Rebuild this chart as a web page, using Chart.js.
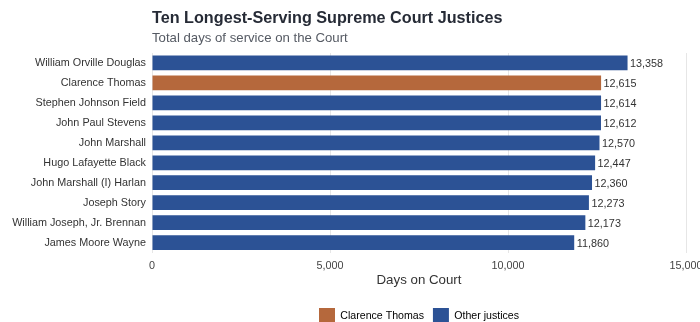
<!DOCTYPE html>
<html>
<head>
<meta charset="utf-8">
<script src="https://cdn.jsdelivr.net/npm/chart.js@4.4.1/dist/chart.umd.min.js"></script>
<style>
  html, body { margin: 0; padding: 0; background: #fff; overflow: hidden; }
  #wrap { position: relative; width: 720px; height: 334px; }
</style>
</head>
<body>
<div id="wrap"><canvas id="courtChart"></canvas></div>
<script>
const justices = [
  "William Orville Douglas",
  "Clarence Thomas",
  "Stephen Johnson Field",
  "John Paul Stevens",
  "John Marshall",
  "Hugo Lafayette Black",
  "John Marshall (I) Harlan",
  "Joseph Story",
  "William Joseph, Jr. Brennan",
  "James Moore Wayne",
];
const daysServed = [13358, 12615, 12614, 12612, 12570, 12447, 12360, 12273, 12173, 11860];
const highlighted = "Clarence Thomas";
const xTicks = [0, 5000, 10000, 15000];

const THOMAS_COLOR = "#b5683c";
const OTHER_COLOR = "#2c5295";
const FONT = "'Liberation Sans', Arial, sans-serif";
const SMALL = 10.8;

// title + subtitle sit flush with the left edge of the plot area
const headingPlugin = {
  id: "heading",
  afterDraw(chart) {
    const ctx = chart.ctx;
    const left = chart.chartArea.left;
    ctx.save();
    ctx.textAlign = "left";
    ctx.textBaseline = "alphabetic";
    ctx.fillStyle = "#262b36";
    ctx.font = "bold 16.2px " + FONT;
    ctx.fillText("Ten Longest-Serving Supreme Court Justices", left, 23);
    ctx.fillStyle = "#555a63";
    ctx.font = "13.2px " + FONT;
    ctx.fillText("Total days of service on the Court", left, 42);
    ctx.restore();
  },
};

// value labels just past the end of each bar
const valueLabelPlugin = {
  id: "valueLabels",
  afterDatasetsDraw(chart) {
    const ctx = chart.ctx;
    const meta = chart.getDatasetMeta(0);
    ctx.save();
    ctx.font = SMALL + "px " + FONT;
    ctx.fillStyle = "#333";
    ctx.textAlign = "left";
    ctx.textBaseline = "middle";
    meta.data.forEach((bar, i) => {
      ctx.fillText(daysServed[i].toLocaleString("en-US"), bar.x + 2.5, bar.y + 1);
    });
    ctx.restore();
  },
};

const ctx = document.getElementById("courtChart").getContext("2d");

new Chart(ctx, {
  type: "bar",
  data: {
    labels: justices,
    datasets: [
      {
        label: "Days on Court",
        data: daysServed,
        backgroundColor: justices.map((j) => (j === highlighted ? THOMAS_COLOR : OTHER_COLOR)),
        borderWidth: 0,
        barPercentage: 0.74,
        categoryPercentage: 1,
      },
    ],
  },
  options: {
    indexAxis: "y",
    responsive: true,
    maintainAspectRatio: false,
    animation: false,
    layout: { padding: { top: 53, right: 34, left: 0, bottom: 0 } },
    scales: {
      x: {
        min: 0,
        max: 15000,
        afterBuildTicks(scale) {
          scale.ticks = xTicks.map((v) => ({ value: v }));
        },
        grid: { color: "#e6e6e6", drawTicks: false },
        border: { display: false },
        ticks: {
          padding: 6.5,
          color: "#444",
          font: { family: FONT, size: SMALL },
          callback: (v) => Number(v).toLocaleString("en-US"),
        },
        title: {
          display: true,
          text: "Days on Court",
          color: "#333",
          font: { family: FONT, size: 13.3 },
          padding: { top: -6, bottom: 10.5 },
        },
      },
      y: {
        grid: { display: false, drawTicks: false },
        border: { display: false },
        afterFit(scale) {
          scale.width = 152;
        },
        ticks: {
          padding: 6,
          color: "#333",
          font: { family: FONT, size: SMALL },
        },
      },
    },
    plugins: {
      legend: {
        position: "bottom",
        fullSize: false,
        labels: {
          boxWidth: 16,
          boxHeight: 16,
          padding: 9,
          color: "#333",
          font: { family: FONT, size: 10.6 },
          generateLabels: () => [
            { text: "Clarence Thomas", fillStyle: THOMAS_COLOR, strokeStyle: THOMAS_COLOR, lineWidth: 0 },
            { text: "Other justices", fillStyle: OTHER_COLOR, strokeStyle: OTHER_COLOR, lineWidth: 0 },
          ],
        },
        onClick: null,
      },
      tooltip: { enabled: false },
    },
  },
  plugins: [headingPlugin, valueLabelPlugin],
});
</script>
</body>
</html>
